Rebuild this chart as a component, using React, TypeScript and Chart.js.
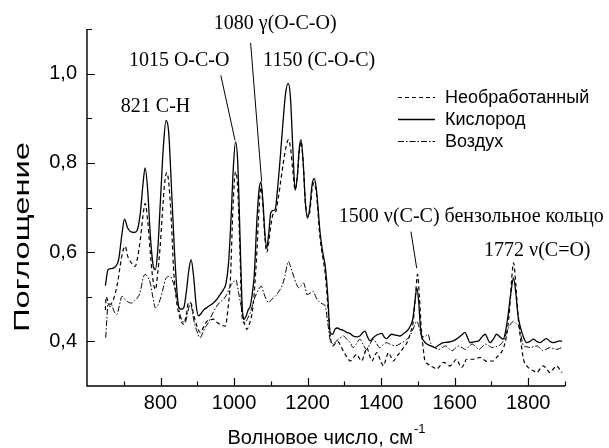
import React, { useEffect, useRef } from 'react';
import { Chart, registerables } from 'chart.js';

Chart.register(...registerables);

// ---- Data (wavenumber, cm^-1 / absorbance) ----
const oxygenX = [650,657,665,675,686,695,702,710,718,728,736,745,752,758,765,772,780,786,792,800,808,815,822,830,838,849,856,863,870,877,883,890,897,903,910,917,930,945,953,962,971,978,985,992,998,1004,1010,1016,1021,1026,1032,1038,1044,1050,1055,1062,1068,1073,1078,1084,1089,1094,1100,1106,1112,1118,1125,1132,1140,1147,1153,1160,1166,1172,1177,1182,1188,1194,1200,1206,1212,1218,1224,1234,1241,1248,1255,1261,1268,1275,1282,1288,1297,1306,1315,1324,1333,1342,1350,1356,1363,1370,1377,1384,1393,1402,1408,1415,1422,1429,1440,1451,1462,1472,1479,1486,1492,1497,1502,1506,1510,1517,1524,1535,1546,1557,1569,1582,1596,1610,1620,1628,1635,1642,1652,1665,1674,1683,1690,1696,1705,1714,1723,1732,1740,1746,1753,1760,1766,1772,1778,1787,1796,1805,1814,1823,1832,1841,1850,1859,1868,1877,1886,1892];
const oxygenY = [0.525,0.560,0.563,0.566,0.583,0.64,0.674,0.655,0.646,0.644,0.648,0.687,0.75,0.789,0.74,0.64,0.57,0.561,0.60,0.72,0.84,0.895,0.87,0.74,0.60,0.479,0.472,0.475,0.51,0.56,0.583,0.545,0.48,0.457,0.462,0.470,0.478,0.487,0.494,0.505,0.516,0.53,0.576,0.68,0.79,0.847,0.80,0.64,0.50,0.449,0.455,0.47,0.479,0.51,0.55,0.67,0.74,0.757,0.72,0.64,0.609,0.64,0.689,0.693,0.696,0.74,0.806,0.88,0.955,0.978,0.95,0.83,0.739,0.77,0.83,0.852,0.80,0.71,0.676,0.70,0.75,0.765,0.74,0.643,0.60,0.568,0.50,0.42,0.416,0.428,0.43,0.427,0.425,0.42,0.418,0.412,0.410,0.412,0.42,0.423,0.41,0.401,0.407,0.412,0.416,0.418,0.41,0.406,0.412,0.416,0.414,0.412,0.418,0.425,0.434,0.45,0.49,0.52,0.49,0.44,0.412,0.40,0.394,0.39,0.386,0.392,0.397,0.398,0.401,0.408,0.415,0.42,0.408,0.397,0.399,0.401,0.41,0.416,0.405,0.397,0.405,0.416,0.41,0.405,0.43,0.464,0.51,0.542,0.51,0.46,0.434,0.41,0.397,0.40,0.405,0.40,0.397,0.402,0.406,0.40,0.397,0.399,0.401,0.40];

const rawX = [650,652,657,663,670,677,684,690,697,704,711,718,725,731,738,745,752,758,765,772,779,786,792,799,806,812,817,823,830,835,842,849,856,863,870,876,883,890,899,908,917,926,935,944,953,962,970,976,983,990,997,1004,1010,1016,1021,1028,1035,1042,1049,1055,1062,1068,1073,1078,1084,1089,1094,1100,1107,1113,1120,1127,1134,1141,1148,1154,1160,1166,1172,1177,1182,1188,1194,1200,1206,1212,1218,1224,1234,1241,1248,1255,1262,1268,1275,1282,1290,1296,1302,1309,1316,1325,1334,1340,1347,1354,1361,1368,1375,1381,1388,1397,1406,1413,1420,1426,1433,1442,1451,1460,1470,1480,1488,1494,1499,1504,1510,1515,1519,1526,1533,1542,1551,1560,1569,1578,1587,1596,1605,1612,1619,1626,1632,1641,1650,1660,1669,1678,1687,1696,1705,1714,1723,1730,1737,1744,1750,1755,1760,1766,1773,1780,1787,1796,1805,1814,1823,1832,1841,1850,1859,1868,1877,1885,1892];
const rawY = [0.47,0.50,0.49,0.483,0.49,0.508,0.535,0.568,0.60,0.613,0.59,0.579,0.572,0.568,0.59,0.628,0.68,0.709,0.67,0.60,0.54,0.516,0.55,0.613,0.70,0.76,0.778,0.75,0.66,0.568,0.50,0.464,0.445,0.438,0.46,0.487,0.485,0.46,0.434,0.42,0.432,0.445,0.448,0.45,0.443,0.438,0.435,0.434,0.47,0.538,0.70,0.78,0.74,0.60,0.464,0.44,0.427,0.44,0.464,0.51,0.60,0.70,0.745,0.71,0.63,0.60,0.62,0.66,0.687,0.69,0.72,0.76,0.80,0.835,0.852,0.83,0.78,0.74,0.77,0.82,0.848,0.80,0.71,0.68,0.69,0.74,0.755,0.73,0.63,0.59,0.55,0.48,0.41,0.39,0.395,0.40,0.39,0.38,0.371,0.362,0.356,0.364,0.371,0.363,0.356,0.37,0.386,0.37,0.356,0.365,0.375,0.36,0.345,0.36,0.375,0.366,0.356,0.366,0.375,0.385,0.397,0.42,0.449,0.51,0.55,0.50,0.419,0.38,0.356,0.35,0.345,0.342,0.338,0.345,0.353,0.35,0.345,0.352,0.36,0.35,0.341,0.35,0.36,0.36,0.36,0.362,0.364,0.36,0.355,0.356,0.356,0.364,0.371,0.38,0.397,0.43,0.479,0.54,0.576,0.53,0.449,0.40,0.36,0.345,0.338,0.334,0.330,0.338,0.345,0.338,0.330,0.338,0.345,0.338,0.33];

const airX = [651,654,657,660,663,666,670,675,681,688,695,702,709,715,722,730,740,746,752,758,765,772,779,786,792,799,806,813,820,826,833,840,847,854,860,867,874,881,886,890,898,908,915,922,930,940,953,962,971,980,990,997,1005,1012,1021,1030,1037,1044,1053,1062,1068,1074,1080,1087,1094,1102,1112,1120,1130,1138,1144,1148,1154,1162,1169,1176,1183,1189,1194,1198,1207,1216,1222,1230,1240,1248,1255,1261,1270,1277,1284,1292,1298,1306,1315,1324,1333,1342,1351,1360,1369,1378,1387,1396,1405,1415,1426,1438,1448,1457,1467,1478,1488,1497,1504,1510,1517,1524,1528,1533,1539,1548,1557,1566,1575,1584,1593,1602,1611,1620,1629,1638,1648,1657,1666,1675,1684,1693,1702,1711,1720,1730,1738,1746,1753,1760,1767,1775,1781,1787,1796,1805,1814,1823,1832,1841,1850,1859,1868,1877,1885,1892];
const airY = [0.408,0.45,0.486,0.48,0.477,0.483,0.475,0.465,0.46,0.48,0.501,0.495,0.49,0.487,0.486,0.492,0.501,0.515,0.54,0.55,0.545,0.531,0.50,0.475,0.48,0.494,0.515,0.538,0.545,0.546,0.535,0.516,0.485,0.457,0.445,0.442,0.465,0.487,0.47,0.449,0.425,0.408,0.42,0.432,0.442,0.46,0.479,0.488,0.494,0.505,0.524,0.532,0.538,0.51,0.472,0.442,0.452,0.464,0.49,0.509,0.518,0.524,0.51,0.495,0.487,0.494,0.501,0.51,0.524,0.545,0.57,0.579,0.566,0.546,0.53,0.52,0.525,0.531,0.518,0.505,0.508,0.512,0.50,0.49,0.484,0.479,0.44,0.405,0.395,0.40,0.405,0.41,0.412,0.405,0.398,0.386,0.395,0.405,0.393,0.382,0.393,0.405,0.396,0.386,0.392,0.397,0.393,0.39,0.393,0.397,0.403,0.412,0.43,0.445,0.43,0.412,0.41,0.414,0.416,0.40,0.39,0.385,0.382,0.386,0.39,0.384,0.379,0.385,0.39,0.386,0.382,0.388,0.394,0.388,0.382,0.388,0.394,0.39,0.386,0.388,0.39,0.398,0.412,0.43,0.44,0.445,0.44,0.434,0.41,0.39,0.388,0.386,0.388,0.39,0.385,0.379,0.383,0.386,0.384,0.382,0.384,0.386];

const seriesNames = ['Необработанный', 'Кислород', 'Воздух'];
const xTickLabels = [800, 1000, 1200, 1400, 1600, 1800];
const yTickLabels = [0.4, 0.6, 0.8, 1.0];
const xTitle = 'Волновое число, см';
const xTitleSup = '-1';
const yTitle = 'Поглощение';

// annotation texts anchored in data coordinates
const annotations = [
  { text: '821 C-H', x: 692, y: 0.914 },
  { text: '1015 O-C-O', x: 714, y: 1.017 },
  { text: '1080 γ(O-C-O)', x: 945, y: 1.101 },
  { text: '1150 (C-O-C)', x: 1079, y: 1.017 },
  { text: '1500 ν(C-C) бензольное кольцо', x: 1285, y: 0.668 },
  { text: '1772 ν(C=O)', x: 1680, y: 0.591 },
];
const leaders = [
  { x1: 964, y1: 0.996, x2: 1002.5, y2: 0.851 },
  { x1: 1045, y1: 1.069, x2: 1075, y2: 0.758 },
  { x1: 1481, y1: 0.646, x2: 1496.7, y2: 0.564 },
];

const DASHES: number[][] = [[4, 3], [], [6, 2, 1.5, 2]];
const WIDTHS = [1.2, 1.3, 1.0];

const zip = (xs: number[], ys: number[]) => xs.map((x, i) => ({ x, y: ys[i] }));

const SANS = "'Liberation Sans', Arial, sans-serif";
const SERIF = "'Liberation Serif', 'Times New Roman', serif";

const decorPlugin = {
  id: 'decor',
  afterDraw(chart: any) {
    const ctx = chart.ctx as CanvasRenderingContext2D;
    const xs = chart.scales.x;
    const ys = chart.scales.y;
    const { left, right, top, bottom } = chart.chartArea;
    ctx.save();
    ctx.strokeStyle = '#000';
    ctx.fillStyle = '#000';
    ctx.setLineDash([]);
    // axes
    ctx.lineWidth = 1.4;
    ctx.beginPath();
    ctx.moveTo(left, top);
    ctx.lineTo(left, bottom);
    ctx.lineTo(right, bottom);
    ctx.stroke();
    // ticks
    ctx.lineWidth = 1.2;
    ctx.beginPath();
    for (let v = 700; v <= 1900; v += 100) {
      const px = Math.round(xs.getPixelForValue(v)) + 0.5;
      const len = v % 200 === 0 ? 8 : 4.5;
      ctx.moveTo(px, bottom);
      ctx.lineTo(px, bottom - len);
    }
    for (let k = 4; k <= 11; k++) {
      const py = Math.round(ys.getPixelForValue(k / 10)) + 0.5;
      const len = k % 2 === 0 ? 8 : 5;
      ctx.moveTo(left, py);
      ctx.lineTo(left + len, py);
    }
    ctx.stroke();

    // leader lines
    ctx.lineWidth = 1;
    ctx.beginPath();
    leaders.forEach((l) => {
      ctx.moveTo(xs.getPixelForValue(l.x1), ys.getPixelForValue(l.y1));
      ctx.lineTo(xs.getPixelForValue(l.x2), ys.getPixelForValue(l.y2));
    });
    ctx.stroke();

    // annotations
    ctx.font = `20px ${SERIF}`;
    ctx.textAlign = 'left';
    ctx.textBaseline = 'alphabetic';
    annotations.forEach((a) => {
      ctx.fillText(a.text, xs.getPixelForValue(a.x), ys.getPixelForValue(a.y));
    });

    // legend
    ctx.font = `18px ${SANS}`;
    ctx.textBaseline = 'middle';
    const lx0 = right - 167;
    const lx1 = right - 130;
    seriesNames.forEach((name, i) => {
      const y = top + 68 + i * 22;
      ctx.setLineDash(DASHES[i]);
      ctx.lineWidth = WIDTHS[i];
      ctx.beginPath();
      ctx.moveTo(lx0, y + 0.5);
      ctx.lineTo(lx1, y + 0.5);
      ctx.stroke();
      ctx.setLineDash([]);
      ctx.fillText(name, right - 120, y + 1);
    });

    // x title
    const cx = (left + right) / 2;
    ctx.font = `20px ${SANS}`;
    const w1 = ctx.measureText(xTitle).width;
    ctx.font = `13px ${SANS}`;
    const w2 = ctx.measureText(xTitleSup).width;
    const sx = cx - (w1 + w2) / 2;
    ctx.textBaseline = 'alphabetic';
    ctx.font = `20px ${SANS}`;
    ctx.fillText(xTitle, sx, 444);
    ctx.font = `13px ${SANS}`;
    ctx.fillText(xTitleSup, sx + w1 + 1, 433);

    // y title (stretched along its length as in the reference)
    ctx.save();
    ctx.translate(23, 237);
    ctx.rotate(-Math.PI / 2);
    ctx.font = `22px ${SANS}`;
    const yw = ctx.measureText(yTitle).width;
    const stretch = 190 / yw;
    ctx.scale(stretch, 1);
    ctx.textAlign = 'center';
    ctx.textBaseline = 'middle';
    ctx.fillText(yTitle, 0, 0);
    ctx.restore();

    ctx.restore();
  },
};

export default function App() {
  const ref = useRef<HTMLCanvasElement | null>(null);
  useEffect(() => {
    if (!ref.current) return;
    const chart = new Chart(ref.current, {
      type: 'line',
      data: {
        datasets: [
          { label: seriesNames[0], data: zip(rawX, rawY) },
          { label: seriesNames[1], data: zip(oxygenX, oxygenY) },
          { label: seriesNames[2], data: zip(airX, airY) },
        ].map((d, i) => ({
          ...d,
          borderColor: '#000',
          backgroundColor: '#000',
          borderWidth: WIDTHS[i],
          borderDash: DASHES[i],
          pointRadius: 0,
          fill: false,
          cubicInterpolationMode: 'monotone' as const,
        })),
      },
      options: {
        responsive: false,
        maintainAspectRatio: false,
        devicePixelRatio: 1,
        animation: false,
        events: [],
        layout: { padding: { left: 0, right: 44, top: 29, bottom: 0 } },
        plugins: { legend: { display: false }, tooltip: { enabled: false }, title: { display: false } },
        scales: {
          x: {
            type: 'linear',
            min: 600,
            max: 1900,
            afterFit: (s: any) => { s.height = 62; },
            grid: { display: false, drawTicks: false },
            border: { display: false },
            ticks: {
              stepSize: 100,
              autoSkip: false,
              maxRotation: 0,
              minRotation: 0,
              padding: 5,
              color: '#000',
              font: { family: SANS, size: 20 },
              callback: (v: any) => (xTickLabels.includes(Number(v)) ? String(v) : ''),
            },
          },
          y: {
            type: 'linear',
            min: 0.3,
            max: 1.1,
            afterFit: (s: any) => { s.width = 87; },
            grid: { display: false, drawTicks: false },
            border: { display: false },
            ticks: {
              stepSize: 0.1,
              autoSkip: false,
              padding: 10,
              color: '#000',
              font: { family: SANS, size: 20 },
              callback: (v: any) => {
                const k = Math.round(Number(v) * 10);
                const hit = yTickLabels.some((t) => Math.round(t * 10) === k);
                return hit ? (k / 10).toFixed(1).replace('.', ',') : '';
              },
            },
          },
        },
      },
      plugins: [decorPlugin],
    });
    return () => chart.destroy();
  }, []);
  return (
    <div style={{ position: 'absolute', left: 0, top: 0, width: 609, height: 448, background: '#fff' }}>
      <canvas ref={ref} width={609} height={448} style={{ display: 'block', width: 609, height: 448 }} />
    </div>
  );
}
